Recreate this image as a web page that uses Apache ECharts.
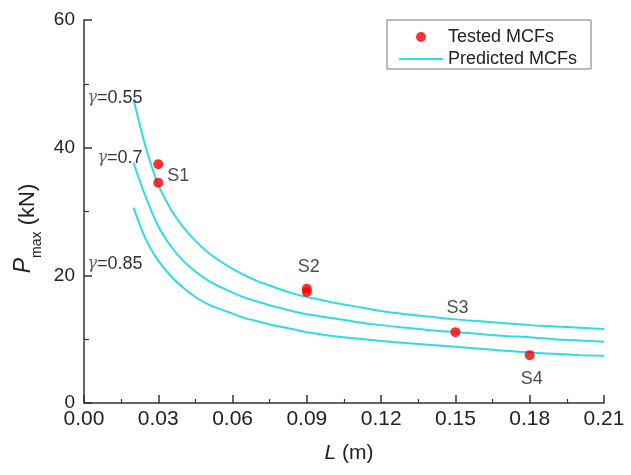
<!DOCTYPE html>
<html>
<head>
<meta charset="utf-8">
<script src="https://cdn.jsdelivr.net/npm/echarts@6/dist/echarts.min.js"></script>
<style>
  html, body { margin: 0; padding: 0; background: #fff; }
  #chart { width: 631px; height: 475px; }
</style>
</head>
<body>
<div id="chart"></div>
<script>
// L (m) sample points along the predicted curves
const lengths = [0.02, 0.025, 0.03, 0.035, 0.04, 0.045, 0.05, 0.055, 0.06, 0.065, 0.07, 0.075, 0.08, 0.085, 0.09, 0.095,
  0.10, 0.11, 0.12, 0.13, 0.14, 0.15, 0.16, 0.17, 0.18, 0.19, 0.20, 0.21]

// predicted Pmax (kN) for each gamma
const predicted055 = [47.6, 40.0, 34.2, 30.4, 27.6, 25.4, 23.6, 22.2, 21.0, 20.0, 19.1, 18.4, 17.7, 17.1, 16.6, 16.2,
  15.8, 15.1, 14.4, 13.9, 13.5, 13.1, 12.8, 12.5, 12.2, 12.0, 11.8, 11.6]
const predicted070 = [37.6, 32.2, 27.7, 24.6, 22.3, 20.6, 19.2, 18.2, 17.3, 16.5, 15.9, 15.3, 14.8, 14.3, 13.9, 13.6,
  13.3, 12.7, 12.2, 11.8, 11.4, 11.1, 10.8, 10.5, 10.3, 10.0, 9.8, 9.6]
const predicted085 = [30.6, 25.6, 22.3, 19.9, 18.1, 16.6, 15.5, 14.7, 14.0, 13.3, 12.8, 12.3, 11.9, 11.5, 11.1, 10.8,
  10.5, 10.1, 9.7, 9.4, 9.1, 8.8, 8.5, 8.2, 7.9, 7.7, 7.5, 7.4]
const gammaLabels = ['0.55', '0.7', '0.85']

// tested specimens
const testedNames = ['S1', 'S1', 'S2', 'S2', 'S3', 'S4']
const testedL = [0.03, 0.03, 0.09, 0.09, 0.15, 0.18]
const testedP = [37.4, 34.5, 17.9, 17.4, 11.1, 7.5]

const xTicks = { min: 0, max: 0.21, interval: 0.03 }
const yTicks = { min: 0, max: 60, interval: 20 }

const cyan = '#2EDCE4'
const axisColor = '#333'
const textColor = '#222'
const font = 'Liberation Sans, Arial, sans-serif'

// offsets of the gamma labels from the first point of each curve
const gammaOffsets = [[0, -1], [0, -5], [0, 56]]

function curveSeries(values, idx) {
  return {
    name: 'Predicted MCFs',
    type: 'line',
    smooth: 0.3,
    symbol: 'circle',
    symbolSize: 0,
    showSymbol: true,
    lineStyle: { color: cyan, width: 2 },
    itemStyle: { color: cyan },
    z: 2,
    data: lengths.map((l, i) => {
      const item = { value: [l, values[i]] }
      if (i === 0) {
        item.label = {
          show: true,
          position: 'left',
          distance: -9,
          offset: gammaOffsets[idx],
          formatter: '{g|γ}{t|=' + gammaLabels[idx] + '}',
          rich: {
            g: { fontFamily: 'DejaVu Serif, serif', fontStyle: 'italic', fontSize: 16, color: '#666' },
            t: { fontFamily: font, fontSize: 18, color: '#333' }
          }
        }
      }
      return item
    })
  }
}

// where each tested label goes
const testedLabelPos = { 0: ['right', 4, [0, 12]], 2: ['top', 4, [2, -4]], 4: ['top', 10, [2, 0]], 5: ['bottom', 10, [2, 0]] }

const chart = echarts.init(document.getElementById('chart'))

chart.setOption({
  backgroundColor: '#fff',
  animation: false,
  textStyle: { fontFamily: font },
  grid: { left: 84, right: 27, top: 20, bottom: 72 },
  legend: {
    left: 387,
    top: 20,
    orient: 'vertical',
    borderColor: '#777',
    borderWidth: 1,
    borderRadius: 0,
    padding: [8, 14, 1, 11],
    itemWidth: 44,
    itemHeight: 10,
    itemGap: 4,
    textStyle: { fontSize: 18, color: textColor, fontFamily: font },
    data: [
      { name: 'Tested MCFs', icon: 'circle' },
      { name: 'Predicted MCFs', itemStyle: { opacity: 0 } }
    ]
  },
  xAxis: {
    type: 'value',
    min: xTicks.min,
    max: xTicks.max,
    interval: xTicks.interval,
    name: '{i|L} (m)',
    nameLocation: 'middle',
    nameGap: 40,
    nameTextStyle: {
      fontSize: 21,
      color: textColor,
      padding: [0, 0, 0, 10],
      rich: { i: { fontStyle: 'italic', fontSize: 21, color: textColor } }
    },
    axisLine: { lineStyle: { color: axisColor, width: 1.5 } },
    axisTick: { inside: true, length: 8, lineStyle: { color: axisColor, width: 1.5 } },
    minorTick: { show: true, splitNumber: 2, length: 4, lineStyle: { color: axisColor, width: 1.2 } },
    axisLabel: { fontSize: 21, color: textColor, margin: 6, formatter: v => v.toFixed(2) },
    splitLine: { show: false }
  },
  yAxis: {
    type: 'value',
    min: yTicks.min,
    max: yTicks.max,
    interval: yTicks.interval,
    name: '{i|P}{s|max} (kN)',
    nameLocation: 'middle',
    nameGap: 40,
    nameMoveOverlap: false,
    nameRotate: 90,
    nameTextStyle: {
      fontSize: 22,
      color: textColor,
      padding: [0, 34, 0, 0],
      rich: {
        i: { fontStyle: 'italic', fontSize: 23, color: textColor, verticalAlign: 'top', lineHeight: 26 },
        s: { fontSize: 14, color: textColor, verticalAlign: 'bottom', lineHeight: 32 }
      }
    },
    axisLine: { show: true, lineStyle: { color: axisColor, width: 1.5 } },
    axisTick: { inside: true, length: 8, lineStyle: { color: axisColor, width: 1.5 } },
    minorTick: { show: true, splitNumber: 2, length: 5, lineStyle: { color: axisColor, width: 1.2 } },
    axisLabel: { fontSize: 19, color: textColor, margin: 9 },
    splitLine: { show: false }
  },
  series: [
    curveSeries(predicted055, 0),
    curveSeries(predicted070, 1),
    curveSeries(predicted085, 2),
    {
      name: 'Tested MCFs',
      type: 'scatter',
      symbol: 'circle',
      symbolSize: 10,
      z: 3,
      itemStyle: { color: '#F40000' },
      data: testedL.map((l, i) => {
        const item = { value: [l, testedP[i]] }
        const pos = testedLabelPos[i]
        if (pos) {
          item.label = {
            show: true,
            position: pos[0],
            distance: pos[1],
            offset: pos[2],
            formatter: testedNames[i],
            fontSize: 18,
            color: textColor,
            fontFamily: font
          }
        }
        return item
      })
    }
  ]
})
</script>
</body>
</html>
